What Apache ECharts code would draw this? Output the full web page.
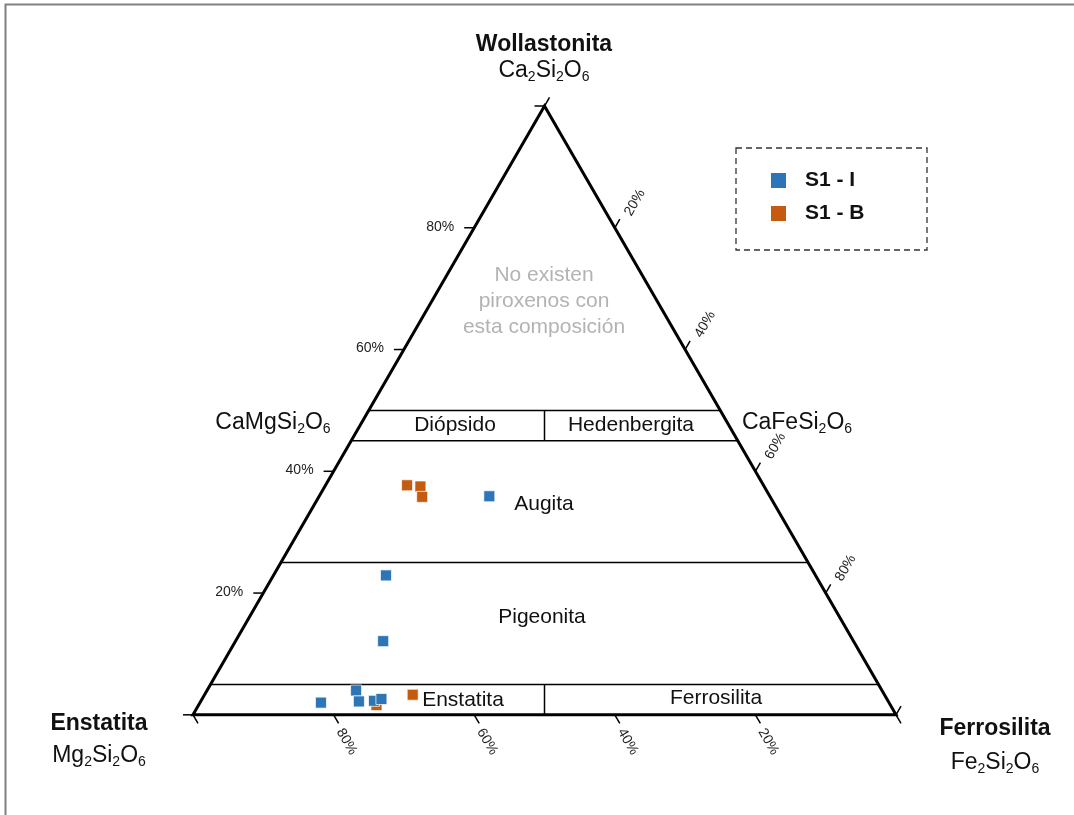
<!DOCTYPE html>
<html>
<head>
<meta charset="utf-8">
<script src="https://cdn.jsdelivr.net/npm/echarts@6/dist/echarts.min.js"></script>
<style>
  html, body { margin: 0; padding: 0; background: #fff; }
  #chart { width: 1074px; height: 815px; }
</style>
</head>
<body>
<div id="chart"></div>
<script>
// ---- Data (ternary compositions in %: Wo, En, Fs) ----
const seriesNames = ['S1 - I', 'S1 - B'];
const s1I_Wo = [35.9, 22.9, 12.1, 4.0, 2.0, 2.2, 2.3, 2.6];
const s1I_En = [39.9, 61.1, 66.9, 74.8, 80.8, 75.3, 73.1, 71.9];
const s1I_Fs = [24.2, 16.0, 21.0, 21.2, 17.2, 22.5, 24.6, 25.5];
const s1B_Wo = [37.7, 37.5, 35.8, 3.3, 1.6];
const s1B_En = [50.7, 48.9, 49.5, 67.1, 73.1];
const s1B_Fs = [11.6, 13.6, 14.7, 29.6, 25.3];
const tickValues = [0, 20, 40, 60, 80, 100];
const tickLabels = ['', '20%', '40%', '60%', '80%', ''];
const boundaryWo = [50, 45, 25, 5];          // field boundaries (Wo %)
const dividerWo = [[45, 50], [0, 5]];         // En = Fs dividers between these Wo values

const H = Math.sqrt(3) / 2;
function tern(wo, en, fs) {
  const s = wo + en + fs;
  return [(fs + wo / 2) / s, (wo / s) * H];
}
function toXY(wo, en, fs) {
  return wo.map((w, i) => tern(w, en[i], fs[i]));
}

const FONT = '"Liberation Sans", Arial, Helvetica, sans-serif';

function formula(parts, size, weight) {
  let s = '';
  parts.forEach(p => { s += '{' + (p[1] ? 's' : 'a') + '|' + p[0] + '}'; });
  return {
    text: s,
    rich: {
      a: { fontSize: size, fontFamily: FONT, fontWeight: weight || 'normal', fill: '#111', lineHeight: size + 4 },
      s: { fontSize: Math.round(size * 0.62), fontFamily: FONT, fill: '#111', lineHeight: Math.round(size * 0.62), verticalAlign: 'bottom' }
    }
  };
}

function textEl(x, y, text, size, opts) {
  opts = opts || {};
  return {
    type: 'text', x: x, y: y, silent: true,
    style: {
      text: text, fontSize: size, fontFamily: FONT,
      fontWeight: opts.weight || 'normal', fill: opts.color || '#111',
      align: opts.align || 'center', verticalAlign: 'middle',
      lineHeight: opts.lineHeight
    }
  };
}
function formulaEl(x, y, parts, size, align) {
  const f = formula(parts, size);
  return {
    type: 'text', x: x, y: y, silent: true,
    style: { text: f.text, rich: f.rich, align: align || 'center', verticalAlign: 'middle', fontFamily: FONT, fontSize: size, fill: '#111' }
  };
}

const chart = echarts.init(document.getElementById('chart'));

function renderFrame(params, api) {
  const P = (wo, en, fs) => api.coord(tern(wo, en, fs));
  const ch = [];
  const A = P(100, 0, 0), B = P(0, 100, 0), C = P(0, 0, 100);
  boundaryWo.forEach(w => {
    const p1 = P(w, 100 - w, 0), p2 = P(w, 0, 100 - w);
    ch.push({ type: 'line', shape: { x1: p1[0], y1: p1[1], x2: p2[0], y2: p2[1] },
      style: { stroke: '#000', lineWidth: 1.5 } });
  });
  dividerWo.forEach(d => {
    const p1 = P(d[0], (100 - d[0]) / 2, (100 - d[0]) / 2);
    const p2 = P(d[1], (100 - d[1]) / 2, (100 - d[1]) / 2);
    ch.push({ type: 'line', shape: { x1: p1[0], y1: p1[1], x2: p2[0], y2: p2[1] },
      style: { stroke: '#000', lineWidth: 1.5 } });
  });
  const L = 10;
  const c60 = 0.5, s60 = Math.sqrt(3) / 2;
  tickValues.forEach((t, i) => {
    const a = P(t, 100 - t, 0);
    ch.push({ type: 'line', shape: { x1: a[0], y1: a[1], x2: a[0] - L, y2: a[1] }, style: { stroke: '#000', lineWidth: 1.5 } });
    const b = P(0, t, 100 - t);
    ch.push({ type: 'line', shape: { x1: b[0], y1: b[1], x2: b[0] + L * c60, y2: b[1] + L * s60 }, style: { stroke: '#000', lineWidth: 1.5 } });
    const c = P(100 - t, 0, t);
    ch.push({ type: 'line', shape: { x1: c[0], y1: c[1], x2: c[0] + L * c60, y2: c[1] - L * s60 }, style: { stroke: '#000', lineWidth: 1.5 } });
    if (tickLabels[i]) {
      ch.push({ type: 'text', x: a[0] - 20, y: a[1] - 1,
        style: { text: tickLabels[i], fontSize: 14, fontFamily: FONT, fill: '#222', align: 'right', verticalAlign: 'middle' } });
      ch.push({ type: 'text', x: b[0] + 13, y: b[1] + 27, rotation: -Math.PI / 3,
        style: { text: tickLabels[i], fontSize: 14, fontFamily: FONT, fill: '#222', align: 'center', verticalAlign: 'middle' } });
      ch.push({ type: 'text', x: c[0] + 20, y: c[1] - 25, rotation: Math.PI / 3,
        style: { text: tickLabels[i], fontSize: 14, fontFamily: FONT, fill: '#222', align: 'center', verticalAlign: 'middle' } });
    }
  });
  ch.push({ type: 'polygon', shape: { points: [A, B, C] },
    style: { fill: 'none', stroke: '#000', lineWidth: 3, lineJoin: 'miter', miterLimit: 10 } });
  return { type: 'group', children: ch };
}

const option = {
  backgroundColor: '#fff',
  animation: false,
  grid: { left: 193, top: 106, width: 703, height: 703 * H },
  xAxis: { type: 'value', min: 0, max: 1, show: false },
  yAxis: { type: 'value', min: 0, max: H, show: false },
  legend: {
    data: seriesNames,
    orient: 'vertical',
    left: 766, top: 165,
    itemWidth: 15, itemHeight: 15, itemGap: 12,
    icon: 'rect',
    itemStyle: { borderWidth: 0 },
    textStyle: { fontSize: 21, fontWeight: 'bold', fontFamily: FONT, color: '#111', padding: [0, 0, 0, 14] },
    selectedMode: false
  },
  series: [
    {
      type: 'custom', name: 'frame', coordinateSystem: 'cartesian2d',
      data: [[0.5, 0.4]], renderItem: renderFrame, clip: false, silent: true, z: 1
    },
    {
      type: 'scatter', name: seriesNames[1], data: toXY(s1B_Wo, s1B_En, s1B_Fs),
      symbol: 'rect', symbolSize: 11, z: 3,
      itemStyle: { color: '#C55A11', borderColor: 'rgba(255,255,255,0.7)', borderWidth: 1, opacity: 1 }
    },
    {
      type: 'scatter', name: seriesNames[0], data: toXY(s1I_Wo, s1I_En, s1I_Fs),
      symbol: 'rect', symbolSize: 11, z: 4,
      itemStyle: { color: '#2E75B6', borderColor: 'rgba(255,255,255,0.7)', borderWidth: 1, opacity: 1 }
    }
  ],
  graphic: [
    { type: 'polyline', silent: true, shape: { points: [[5.5, 815], [5.5, 4.5], [1074, 4.5]] },
      style: { stroke: '#808080', lineWidth: 2, fill: 'none' } },
    { type: 'rect', silent: true, shape: { x: 736, y: 148, width: 191, height: 102 },
      style: { fill: 'none', stroke: '#333', lineWidth: 1.3, lineDash: [6, 4] } },
    textEl(544, 45, 'Wollastonita', 23, { weight: 'bold' }),
    formulaEl(544, 71, [['Ca', 0], ['2', 1], ['Si', 0], ['2', 1], ['O', 0], ['6', 1]], 23),
    textEl(544, 301, 'No existen\npiroxenos con\nesta composición', 21, { color: '#b3b3b3', lineHeight: 26 }),
    formulaEl(273, 423, [['CaMgSi', 0], ['2', 1], ['O', 0], ['6', 1]], 23),
    formulaEl(797, 423, [['CaFeSi', 0], ['2', 1], ['O', 0], ['6', 1]], 23),
    textEl(455, 425, 'Diópsido', 21),
    textEl(631, 425, 'Hedenbergita', 21),
    textEl(544, 504, 'Augita', 21),
    textEl(542, 617, 'Pigeonita', 21),
    textEl(463, 700, 'Enstatita', 21),
    textEl(716, 698, 'Ferrosilita', 21),
    textEl(99, 724, 'Enstatita', 23, { weight: 'bold' }),
    formulaEl(99, 756, [['Mg', 0], ['2', 1], ['Si', 0], ['2', 1], ['O', 0], ['6', 1]], 23),
    textEl(995, 729, 'Ferrosilita', 23, { weight: 'bold' }),
    formulaEl(995, 763, [['Fe', 0], ['2', 1], ['Si', 0], ['2', 1], ['O', 0], ['6', 1]], 23)
  ]
};
chart.setOption(option);
</script>
</body>
</html>
